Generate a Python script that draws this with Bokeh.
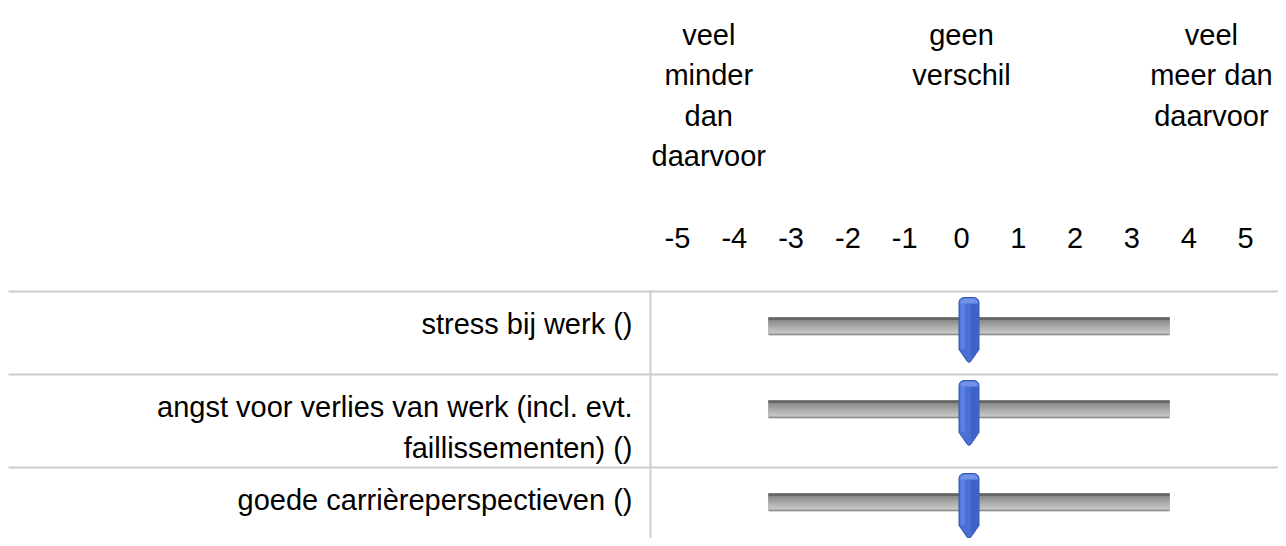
from bokeh.plotting import figure
from bokeh.models import Range1d
from bokeh.embed import file_html
from bokeh.resources import INLINE
from bokeh.core.properties import value

# ---------------- data ----------------
items = [
    "stress bij werk ()",
    "angst voor verlies van werk (incl. evt.\nfaillissementen) ()",
    "goede carrièreperspectieven ()",
]
slider_values = [0, 0, 0]
slider_min, slider_max = -5, 5
scale_ticks = [-5, -4, -3, -2, -1, 0, 1, 2, 3, 4, 5]
tick_labels = [str(t) for t in scale_ticks]
anchor_labels = ["veel\nminder\ndan\ndaarvoor", "geen\nverschil", "veel\nmeer dan\ndaarvoor"]
anchor_ticks = [-4.45, 0, 4.4]

# ---------------- layout (screen px) ----------------
OX, OY = 0, 0
W, H = 1278, 538
SCALE_X0, SCALE_DX = 961, 56.8          # where scale value 0 sits, px per step
SL_L, SL_R = 768, 1169                   # slider track ends
row_heights = [83, 93, 83]
ROW0 = 291
row_tops = [ROW0 + sum(row_heights[:i]) for i in range(len(row_heights))]
LINE_L = 8
DIV_X = 650
LABEL_RIGHT = 632
FONT = value("Liberation Sans")
FS = "29px"

p = figure(width=W, height=H, output_backend="svg", toolbar_location=None,
           x_range=Range1d(OX, OX + W), y_range=Range1d(OY + H, OY),
           x_axis_location=None, y_axis_location=None, min_border=0)
p.grid.visible = False
p.outline_line_color = None
p.background_fill_color = "white"
p.border_fill_color = "white"

p.extra_x_ranges["scale"] = Range1d((OX - SCALE_X0) / SCALE_DX, (OX + W - SCALE_X0) / SCALE_DX)
ppu = (SL_R - SL_L) / (slider_max - slider_min)
p.extra_x_ranges["slider"] = Range1d(slider_min - (SL_L - OX) / ppu,
                                     slider_max + (OX + W - SL_R) / ppu)

# ---------------- table lines ----------------
p.segment(x0=[LINE_L] * len(row_tops), x1=[OX + W] * len(row_tops), y0=row_tops, y1=row_tops,
          line_color="#cccccc", line_width=2)
p.segment(x0=[DIV_X], x1=[DIV_X], y0=[row_tops[0]], y1=[OY + H],
          line_color="#cccccc", line_width=2)

# ---------------- header anchors ----------------
hx, hy, ht = [], [], []
for a, lab in zip(anchor_ticks, anchor_labels):
    for j, line in enumerate(lab.split("\n")):
        hx.append(a); hy.append(34 + j * 40.5); ht.append(line)
p.text(x=hx, y=hy, text=ht, x_range_name="scale", text_align="center",
       text_baseline="alphabetic", text_font=FONT, text_font_size=FS, text_color="#000000")

# ---------------- scale numbers ----------------
p.text(x=scale_ticks, y=[237] * len(scale_ticks), text=tick_labels, x_range_name="scale",
       text_align="center", text_baseline="alphabetic", text_font=FONT,
       text_font_size=FS, text_color="#000000")

# ---------------- item labels ----------------
lx, ly, lt = [], [], []
for top, it in zip(row_tops, items):
    for j, line in enumerate(it.split("\n")):
        lx.append(LABEL_RIGHT); ly.append(top + 32 + j * 41); lt.append(line)
p.text(x=lx, y=ly, text=lt, text_align="right", text_baseline="alphabetic",
       text_font=FONT, text_font_size=FS, text_color="#000000")

# ---------------- slider tracks ----------------
n = len(row_tops)
# base and overlapping gradient bands (each extends to the dark lower edge to avoid seams)
bands = [(26, 44.5, "#d8d8d8"), (26, 43.3, "#777777"), (26, 42.2, "#c4c4c4"),
         (26, 40, "#bcbcbc"), (26, 38, "#b3b3b3"), (26, 36, "#a9a9a9"),
         (26, 34, "#9f9f9f"), (26, 32, "#959595"), (26, 30, "#8b8b8b"),
         (26, 28.6, "#666666")]
for t0, t1, col in bands:
    p.quad(left=[slider_min] * n, right=[slider_max] * n,
           top=[t + t0 for t in row_tops], bottom=[t + t1 for t in row_tops],
           x_range_name="slider", fill_color=col, line_color=None)

# ---------------- slider handles ----------------
shape = [(-10, 58), (-10, 11), (-9.4, 8.5), (-7.8, 6.8), (-5, 6), (5, 6), (7.8, 6.8),
         (9.4, 8.5), (10, 11), (10, 58), (2, 69.5), (0, 71), (-2, 69.5)]
right_shade = [(2, 12), (9, 12), (9, 58), (2, 67.5)]
top_light = [(-8.5, 9), (-5, 7), (5, 7), (8.5, 9), (8.5, 12), (-8.5, 12)]
left_light = [(-8.5, 12), (-4, 12), (-4, 57), (-8.5, 57)]

def build(pts):
    xs, ys = [], []
    for v, top in zip(slider_values, row_tops):
        xs.append([v + dx / ppu for dx, _ in pts])
        ys.append([top + dy for _, dy in pts])
    return xs, ys

xs, ys = build(shape)
p.patches(xs=xs, ys=ys, x_range_name="slider", fill_color="#4a70d8",
          line_color="#3456b0", line_width=1)
xs, ys = build(right_shade)
p.patches(xs=xs, ys=ys, x_range_name="slider", fill_color="#3e63c3", line_color=None)
xs, ys = build(left_light)
p.patches(xs=xs, ys=ys, x_range_name="slider", fill_color="#5a80e2", line_color=None)
xs, ys = build(top_light)
p.patches(xs=xs, ys=ys, x_range_name="slider", fill_color="#7392ea", line_color=None)

open("out.html", "w").write(file_html(p, INLINE))
